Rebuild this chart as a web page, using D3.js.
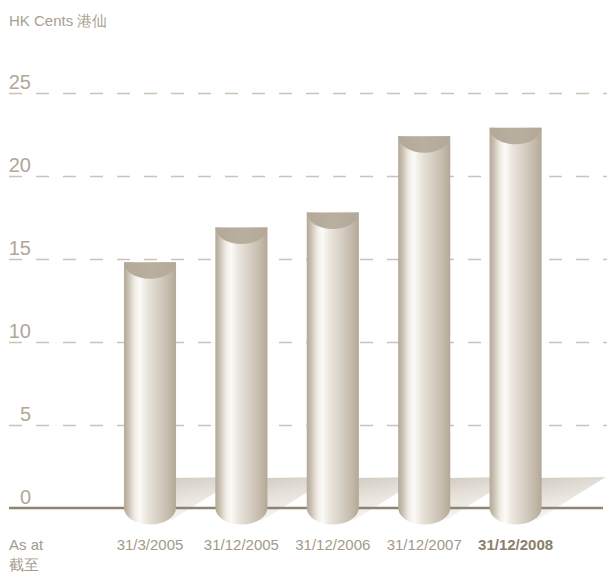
<!DOCTYPE html>
<html>
<head>
<meta charset="utf-8">
<script src="https://cdn.jsdelivr.net/npm/d3@7/dist/d3.min.js"></script>
<style>
  html, body { margin: 0; padding: 0; background: #ffffff; }
  svg { display: block; }
  text { font-family: "Liberation Sans", Arial, sans-serif; }
</style>
</head>
<body>
<svg id="chart" width="607" height="573"></svg>
<script>
// ---- data ----
const categories = ["31/3/2005", "31/12/2005", "31/12/2006", "31/12/2007", "31/12/2008"];
const values = [14.8, 16.9, 17.8, 22.4, 22.9];
const yTicks = [0, 5, 10, 15, 20, 25];
const unitLabel = "HK Cents 港仙";
const asAtLabel = ["As at", "截至"];

// ---- setup ----
const svg = d3.select("#chart");
const W = 607;
const baseY = 508;
const y = d3.scaleLinear().domain([0, 25]).range([baseY, 93]);
const x = d3.scaleBand().domain(categories).range([104.3, 561.3])
  .paddingInner(0.43).paddingOuter(0.215);
const bw = x.bandwidth();
const ry = 16.5;

const defs = svg.append("defs");
const bodyGrad = defs.append("linearGradient").attr("id", "body")
  .attr("x1", "0%").attr("x2", "100%").attr("y1", "0%").attr("y2", "0%");
[[0, "#b3a897"], [0.08, "#c8bfb1"], [0.2, "#efebe4"], [0.3, "#fcfbf8"],
 [0.45, "#e9e4dc"], [0.7, "#d3cbbf"], [0.88, "#c2b8a8"], [1, "#b3a897"]]
  .forEach(([o, c]) => bodyGrad.append("stop").attr("offset", o).attr("stop-color", c));

const capGrad = defs.append("linearGradient").attr("id", "cap")
  .attr("x1", "0%").attr("x2", "100%").attr("y1", "0%").attr("y2", "0%");
[[0, "#b4a998"], [0.5, "#b9af9f"], [1, "#b4a998"]]
  .forEach(([o, c]) => capGrad.append("stop").attr("offset", o).attr("stop-color", c));

const shGrad = defs.append("linearGradient").attr("id", "shadow")
  .attr("x1", "0").attr("x2", "0.3").attr("y1", "0").attr("y2", "1");
[[0, "#d2cbc0"], [0.4, "#e4dfd8"], [1, "#fbfaf8"]]
  .forEach(([o, c]) => shGrad.append("stop").attr("offset", o).attr("stop-color", c));

// ---- unit label ----
svg.append("text").attr("x", 9).attr("y", 26)
  .attr("font-size", 15).attr("fill", "#a89f90").text(unitLabel);

// ---- gridlines + y labels via axis ----
const yAxis = d3.axisRight(y).tickValues(yTicks).tickSize(W - 9).tickFormat(d3.format("d"));
const gAx = svg.append("g").attr("transform", "translate(9,0)").call(yAxis);
gAx.select(".domain").remove();
gAx.selectAll(".tick line")
  .attr("stroke", "#cbc3b6").attr("stroke-width", 1.6)
  .attr("stroke-dasharray", "13,14")
  .filter(d => d === 0).remove();
gAx.selectAll(".tick text")
  .attr("x", 22).attr("dy", 0).attr("y", -5)
  .attr("text-anchor", "end")
  .attr("font-family", "'Open Sans', 'Liberation Sans', sans-serif")
  .attr("font-weight", 300)
  .attr("font-size", 20).attr("fill", "#b0a797");

// ---- shadows ----
svg.append("g").selectAll("path").data(categories).join("path")
  .attr("d", d => {
    const xr = x(d) + bw;
    return `M${xr - 4},478 L${xr + 64},477 L${xr - 6},521 Z`;
  })
  .attr("fill", "url(#shadow)");

// ---- baseline ----
svg.append("line").attr("x1", 9).attr("x2", 603)
  .attr("y1", y(0)).attr("y2", y(0))
  .attr("stroke", "#8f846f").attr("stroke-width", 2.5);

// ---- bars ----
const bars = svg.append("g").selectAll("g").data(values).join("g");
bars.append("path")
  .attr("d", (v, i) => {
    const xl = x(categories[i]), xr = xl + bw, top = y(v);
    return `M${xl},${top} L${xl},${baseY} A${bw / 2},${ry} 0 0 0 ${xr},${baseY} L${xr},${top} Z`;
  })
  .attr("fill", "url(#body)");
bars.append("path")
  .attr("d", (v, i) => {
    const xl = x(categories[i]), xr = xl + bw, top = y(v);
    return `M${xl},${top} A${bw / 2},${ry} 0 0 0 ${xr},${top} Z`;
  })
  .attr("fill", "url(#cap)");

// ---- x labels ----
svg.append("g").selectAll("text").data(categories).join("text")
  .attr("x", d => x(d) + bw / 2).attr("y", 550)
  .attr("text-anchor", "middle").attr("font-size", 15)
  .attr("font-weight", (d, i) => i === categories.length - 1 ? "bold" : "normal")
  .attr("fill", (d, i) => i === categories.length - 1 ? "#8b7f6c" : "#a39a8a")
  .text(d => d);

svg.append("g").selectAll("text").data(asAtLabel).join("text")
  .attr("x", 9).attr("y", (d, i) => 550 + i * 20)
  .attr("font-size", 15).attr("fill", "#a39a8a")
  .text(d => d);
</script>
</body>
</html>
